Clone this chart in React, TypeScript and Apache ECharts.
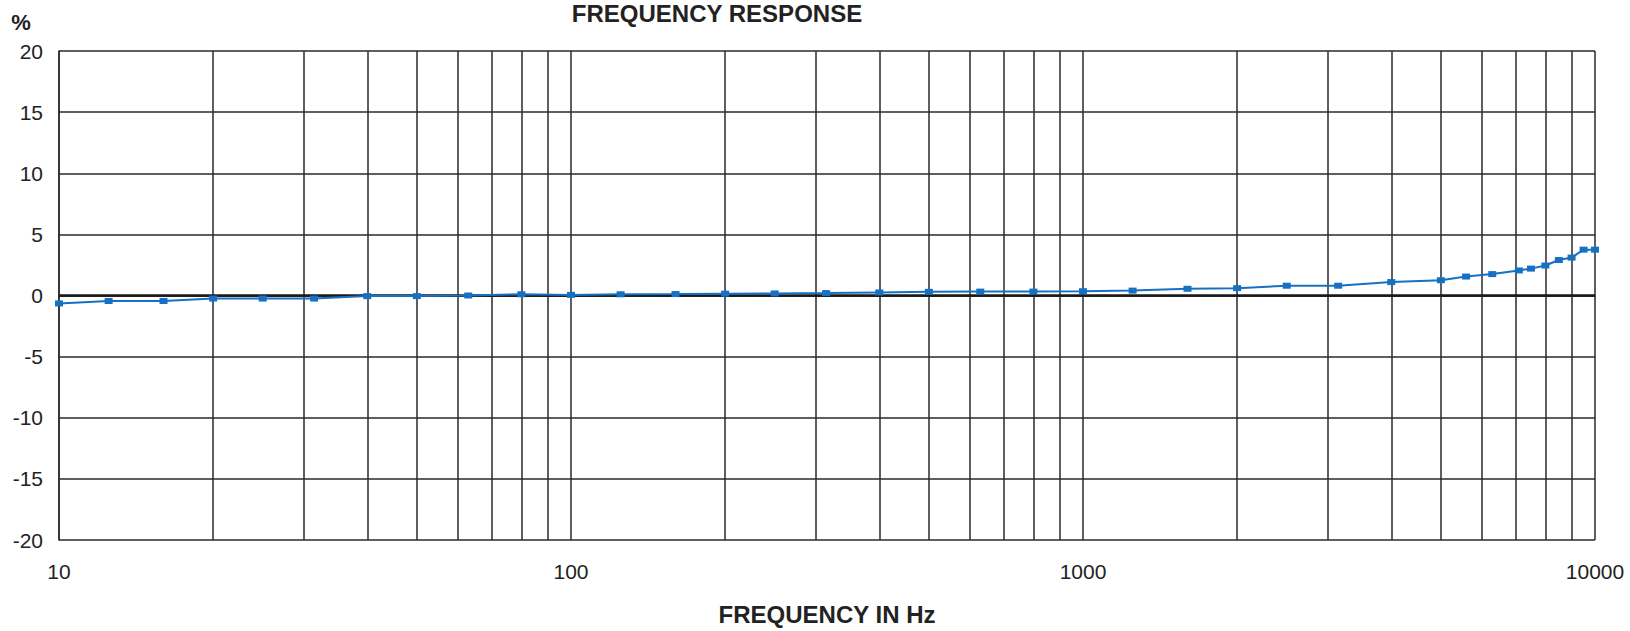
import React, { useEffect, useRef } from "react";
import * as echarts from "echarts";

const frequencies = [
  10, 12.5, 16, 20, 25, 31.5, 40, 50, 63, 80, 100, 125, 160, 200, 250, 315, 400, 500, 630, 800,
  1000, 1250, 1600, 2000, 2500, 3150, 4000, 5000, 5600, 6300, 7100, 7500, 8000, 8500, 9000, 9500, 10000,
];
const responsePct = [
  -0.65, -0.45, -0.45, -0.25, -0.25, -0.25, -0.05, -0.05, 0, 0.1, 0.05, 0.1, 0.12, 0.15, 0.17, 0.2, 0.25, 0.3, 0.32, 0.32,
  0.35, 0.4, 0.55, 0.6, 0.8, 0.8, 1.1, 1.25, 1.55, 1.75, 2.05, 2.2, 2.45, 2.9, 3.1, 3.75, 3.75,
];
const minorGridFreqs = [
  20, 30, 40, 50, 60, 70, 80, 90, 200, 300, 400, 500, 600, 700, 800, 900, 2000, 3000, 4000, 5000, 6000,
  7000, 8000, 9000,
];
const yTicks = { min: -20, max: 20, interval: 5 };
const xRange = { min: 10, max: 10000 };

const GRID_COLOR = "#2a2a2a";
const LINE_COLOR = "#1670c4";

export default function App() {
  const ref = useRef<HTMLDivElement>(null);
  useEffect(() => {
    if (!ref.current) return;
    const chart = echarts.init(ref.current, undefined, { renderer: "svg" });
    const data = frequencies.map((f, i) => [f, responsePct[i]]);
    chart.setOption({
      animation: false,
      backgroundColor: "#ffffff",
      grid: { left: 59, right: 35, top: 51, bottom: 85, containLabel: false },
      graphic: [
        {
          type: "text",
          x: 717,
          y: 13,
          style: {
            text: "FREQUENCY RESPONSE",
            textAlign: "center",
            textVerticalAlign: "middle",
            font: "bold 24px 'Liberation Sans', Arial, sans-serif",
            fill: "#222",
          },
        },
        {
          type: "text",
          x: 21,
          y: 22,
          style: {
            text: "%",
            textAlign: "center",
            textVerticalAlign: "middle",
            font: "bold 22px 'Liberation Sans', Arial, sans-serif",
            fill: "#222",
          },
        },
      ],
      xAxis: {
        type: "log",
        logBase: 10,
        min: xRange.min,
        max: xRange.max,
        name: "FREQUENCY IN Hz",
        nameLocation: "middle",
        nameGap: 62,
        nameTextStyle: {
          fontFamily: "'Liberation Sans', Arial, sans-serif",
          fontWeight: "bold",
          fontSize: 24,
          color: "#222",
        },
        axisLine: { show: true, lineStyle: { color: GRID_COLOR, width: 1.5 } },
        axisTick: { show: false },
        axisLabel: {
          margin: 21,
          fontFamily: "'Liberation Sans', Arial, sans-serif",
          fontSize: 21,
          color: "#222",
          formatter: (v: number) => String(Math.round(v)),
        },
        splitLine: { show: true, lineStyle: { color: GRID_COLOR, width: 1.5 } },
      },
      yAxis: {
        type: "value",
        min: yTicks.min,
        max: yTicks.max,
        interval: yTicks.interval,
        axisLine: { show: true, lineStyle: { color: GRID_COLOR, width: 1.5 } },
        axisTick: { show: false },
        axisLabel: {
          margin: 16,
          fontFamily: "'Liberation Sans', Arial, sans-serif",
          fontSize: 21,
          color: "#222",
        },
        splitLine: { show: true, lineStyle: { color: GRID_COLOR, width: 1.5 } },
      },
      series: [
        {
          type: "line",
          data,
          symbol: "rect",
          symbolSize: [8, 6],
          showSymbol: true,
          itemStyle: { color: LINE_COLOR },
          lineStyle: { color: LINE_COLOR, width: 2 },
          z: 5,
          markLine: {
            silent: true,
            symbol: "none",
            label: { show: false },
            lineStyle: { color: GRID_COLOR, width: 1.5, type: "solid" },
            data: minorGridFreqs.map((f) => ({ xAxis: f })),
            z: 1,
          },
        },
        {
          type: "line",
          data: [
            [xRange.min, 0],
            [xRange.max, 0],
          ],
          symbol: "none",
          silent: true,
          lineStyle: { color: "#1a1a1a", width: 2.5 },
          z: 2,
        },
      ],
    });
    return () => chart.dispose();
  }, []);
  return (
    <div
      ref={ref}
      style={{ position: "fixed", left: 0, top: 0, width: 1630, height: 631, background: "#fff" }}
    />
  );
}
